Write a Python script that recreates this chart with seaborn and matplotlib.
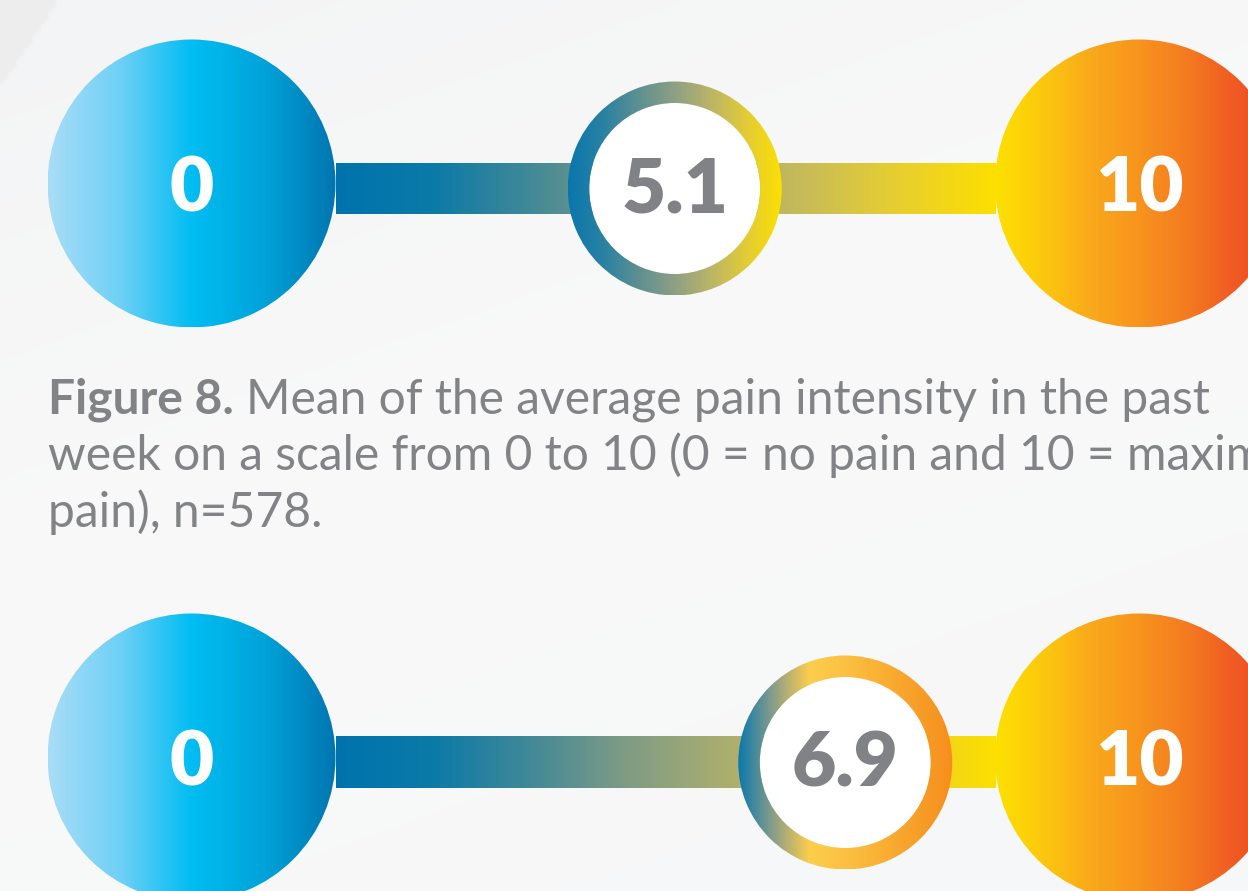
import numpy as np
import matplotlib
matplotlib.use("Agg")
import matplotlib.pyplot as plt
from matplotlib.patches import Circle, Wedge, Rectangle
from matplotlib.colors import to_rgb
import seaborn as sns

# Pain scale: end points and the mean score of each survey item
scale_ends = [0, 10]
end_labels = ["0", "10"]
mean_scores = [5.1, 6.9]
mean_labels = ["5.1", "6.9"]

caption_bold = "Figure 8."
caption_lines = [
    "Mean of the average pain intensity in the past",
    "week on a scale from 0 to 10 (0 = no pain and 10 = maximum",
    "pain), n=578.",
]

# Colour ramps
low_colors = ["#a9ddf7", "#6fd0f6", "#00bdf2", "#00a3da", "#0075b0"]
track_colors = ["#0073ae", "#0a7aa8", "#3e8898", "#7b9a86",
                "#a5ab72", "#c9bc58", "#e8cf2e", "#fddf00"]
high_colors = ["#fde100", "#fcc80e", "#f9a91b", "#f7941d",
               "#f47b20", "#f05a23", "#ee4224"]
ring_colors = [
    ["#0a76ad", "#2a82a2", "#5f9090", "#8fa083", "#bbb566", "#e3cc35", "#fde000"],
    ["#0a78ae", "#8c9e88", "#fdce4c", "#fcc043", "#fab034", "#f79f28", "#f68e1e"],
]
number_color = "#808285"
caption_color = "#818386"

sns.set_theme(style="white")
plt.rcParams["font.family"] = ["Lato", "DejaVu Sans"]

W, H, DPI = 1248, 891, 100
S = 94.75                      # pixels per scale unit
fig = plt.figure(figsize=(W / DPI, H / DPI), dpi=DPI)
ax = fig.add_axes([0, 0, 1, 1])
ax.axis("off")
x_lo, x_hi = -191.5 / S, (W - 191.5) / S
y_lo, y_hi = -H / S, 0.0

# soft grey backdrop
gy, gx = np.mgrid[0:H:4, 0:W:4]
t = np.clip((gy + 0.35 * gx) / (H + 0.35 * W), 0, 1)
top_c = np.array(to_rgb("#f3f4f5"))
mid_c = np.array(to_rgb("#f9f9f9"))
bot_c = np.array(to_rgb("#f6f7f8"))
base = np.where((t < 0.45)[..., None],
                top_c + (mid_c - top_c) * (t / 0.45)[..., None],
                mid_c + (bot_c - mid_c) * ((t - 0.45) / 0.55)[..., None])
corner = (gx + 0.66 * gy) < 55
base[corner] = to_rgb("#ededee")
ax.imshow(base, extent=[x_lo, x_hi, y_lo, y_hi], aspect="auto",
          interpolation="bilinear", zorder=0)

R_end = 144 / S
R_ring = 107 / S
R_inner = 85.5 / S
bar_h = 52 / S
row_circle_y = [-183.5 / S, -757.5 / S]
row_bar_y = [-188.5 / S, -762.5 / S]
label_drop = 28 / S

ramp = np.linspace(0, 1, 512).reshape(1, -1)


def gradient_fill(patch, colors, x0, x1, y0, y1, z):
    ax.add_patch(patch)
    cmap = sns.blend_palette(colors, as_cmap=True)
    im = ax.imshow(ramp, cmap=cmap, extent=[x0, x1, y0, y1], aspect="auto",
                   interpolation="bilinear", zorder=z)
    im.set_clip_path(patch)


num_font = dict(family=["Lato", "DejaVu Sans"], weight="heavy", size=55)

for row, (score, score_label, rcols) in enumerate(zip(mean_scores, mean_labels, ring_colors)):
    cy = row_circle_y[row]
    by = row_bar_y[row]
    lo, hi = scale_ends

    # track between the two end circles
    track = Rectangle((lo + R_end * 0.9, by - bar_h / 2), (hi - lo) - 1.8 * R_end, bar_h,
                      facecolor="none", edgecolor="none")
    gradient_fill(track, track_colors, lo + R_end, hi - R_end,
                  by - bar_h / 2, by + bar_h / 2, 2)

    # end circles
    c_lo = Circle((lo, cy), R_end, facecolor="none", edgecolor="none")
    gradient_fill(c_lo, low_colors, lo - R_end, lo + R_end, cy - R_end, cy + R_end, 3)
    c_hi = Circle((hi, cy), R_end, facecolor="none", edgecolor="none")
    gradient_fill(c_hi, high_colors, hi - R_end, hi + R_end, cy - R_end, cy + R_end, 3)
    for x, lab in zip(scale_ends, end_labels):
        ax.text(x, cy - label_drop, lab, color="white", ha="center", va="baseline",
                zorder=6, **num_font)

    # ring marking the mean score
    ax.add_patch(Circle((score, by), R_inner, facecolor="white", edgecolor="none", zorder=4))
    ring = Wedge((score, by), R_ring, 0, 360, width=R_ring - R_inner,
                 facecolor="none", edgecolor="none")
    gradient_fill(ring, rcols, score - R_ring, score + R_ring,
                  by - R_ring, by + R_ring, 5)
    ax.text(score, by - label_drop + 4 / S, score_label, color=number_color,
            ha="center", va="baseline", zorder=6, **num_font)

ax.set_xlim(x_lo, x_hi)
ax.set_ylim(y_lo, y_hi)

# caption
cap_font = dict(family=["Lato", "DejaVu Sans"], size=34.6, color=caption_color)
baselines = [413, 470, 527]
x_left = 48
tb = fig.text(x_left / W, 1 - baselines[0] / H, caption_bold, weight="bold",
              va="baseline", ha="left", **cap_font)
fig.canvas.draw()
bb = tb.get_window_extent()
fig.text((bb.x1 + 12) / W, 1 - baselines[0] / H, caption_lines[0],
         va="baseline", ha="left", **cap_font)
for line, yb in zip(caption_lines[1:], baselines[1:]):
    fig.text(x_left / W, 1 - yb / H, line, va="baseline", ha="left", **cap_font)

fig.savefig("out.png", dpi=DPI)
